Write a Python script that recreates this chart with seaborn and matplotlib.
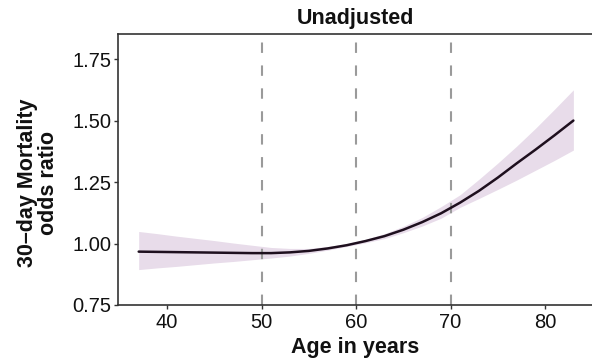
import numpy as np
import pandas as pd
import matplotlib
matplotlib.use("Agg")
import matplotlib.pyplot as plt
import seaborn as sns

# Spline estimate of 30-day mortality odds ratio by age, with 95% CI
age = [37, 39, 41, 43, 45, 47, 49, 51, 53, 55, 57, 59, 61, 63, 65, 67, 69, 71, 73, 75, 77, 79, 81, 83]
odds_ratio = [0.967, 0.966, 0.965, 0.964, 0.963, 0.962, 0.961, 0.961, 0.964, 0.970, 0.980, 0.993,
              1.010, 1.030, 1.056, 1.087, 1.123, 1.166, 1.214, 1.268, 1.326, 1.382, 1.440, 1.500]
ci_upper = [1.049, 1.040, 1.030, 1.021, 1.012, 1.002, 0.993, 0.984, 0.980, 0.980, 0.988, 0.999,
            1.017, 1.040, 1.070, 1.106, 1.150, 1.198, 1.261, 1.327, 1.396, 1.469, 1.546, 1.625]
ci_lower = [0.894, 0.901, 0.907, 0.914, 0.921, 0.927, 0.934, 0.941, 0.949, 0.960, 0.973, 0.988,
            1.003, 1.020, 1.044, 1.071, 1.103, 1.147, 1.183, 1.220, 1.258, 1.298, 1.338, 1.380]
knots = [50, 60, 70]
x_ticks = [40, 50, 60, 70, 80]
y_ticks = [0.75, 1.00, 1.25, 1.50, 1.75]

df = pd.DataFrame({"age": age, "or": odds_ratio, "lo": ci_lower, "hi": ci_upper})

sns.set_theme(style="white")
plt.rcParams["font.family"] = ["Liberation Sans", "DejaVu Sans"]

fig = plt.figure(figsize=(5.92, 3.61), dpi=100)
ax = fig.add_axes([118 / 592, 1 - 305 / 361, 1 - 118 / 592, (305 - 34) / 361])

ax.fill_between(df["age"], df["lo"], df["hi"], color="#e8dcea", lw=0, zorder=1)
for k in knots:
    ax.axvline(k, color="#9a9a9a", lw=1.5, linestyle=(0, (5, 6)), zorder=2)
sns.lineplot(data=df, x="age", y="or", ax=ax, color="#1e0f1e", lw=1.8, zorder=3)

ax.set_xlim(34.81, 84.97)
ax.set_ylim(0.75, 1.852)
ax.set_xticks(x_ticks)
ax.set_yticks(y_ticks)
ax.set_yticklabels([f"{v:.2f}" for v in y_ticks])

spine_col = "#333333"
for side in ["left", "bottom", "top"]:
    ax.spines[side].set_visible(True)
    ax.spines[side].set_color(spine_col)
    ax.spines[side].set_linewidth(1.2)
ax.spines["right"].set_visible(False)

ax.tick_params(axis="both", which="major", length=3, width=1.0, color=spine_col,
               labelsize=14.5, labelcolor="#111111", left=True, bottom=True)
ax.tick_params(axis="x", pad=3)
ax.tick_params(axis="y", pad=2)

ax.set_xlabel("Age in years", fontsize=15.5, fontweight="bold", color="#111111", labelpad=3)
ax.set_ylabel("30\u2013day Mortality\nodds ratio", fontsize=15.5, fontweight="bold",
              color="#111111", labelpad=8, linespacing=1.0)
ax.yaxis.set_label_coords(-0.125, 0.45)
ax.set_title("Unadjusted", fontsize=15.5, fontweight="bold", color="#111111", pad=7)

fig.savefig("out.png", dpi=100)
